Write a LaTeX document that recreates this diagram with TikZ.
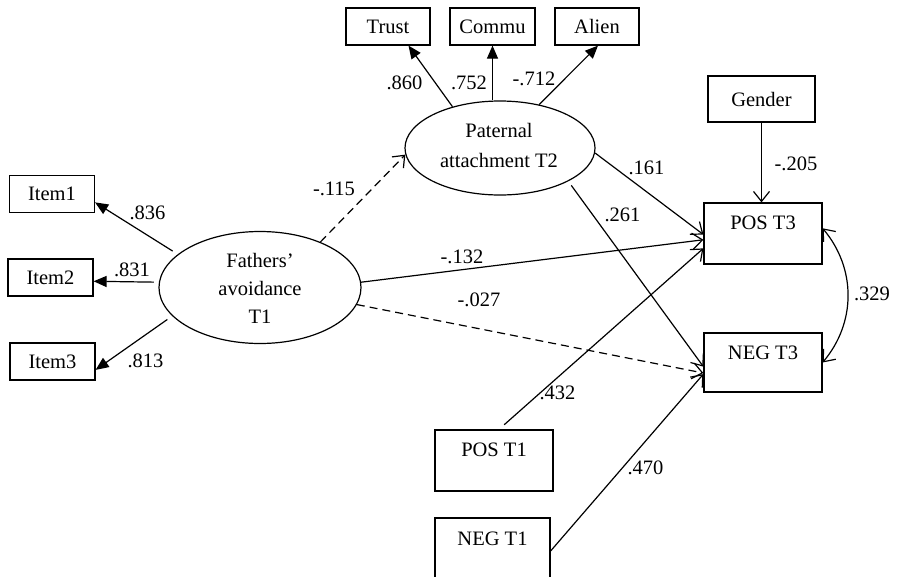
\documentclass[tikz,border=0pt]{standalone}
\usepackage{fontspec}
\setmainfont{Liberation Serif}
\usetikzlibrary{arrows.meta,shapes.geometric}
\begin{document}
\begin{tikzpicture}[x=1pt,y=-1pt,
  font=\fontsize{20.5}{24}\selectfont,
  box/.style={draw,line width=1.2pt,inner sep=0pt},
  lat/.style={draw,ellipse,line width=1.2pt,inner sep=0pt},
  txt/.style={inner sep=0pt},
  lab/.style={inner sep=0pt},
  ld/.style={line width=1.2pt,-{Triangle[length=13pt,width=11pt]}},
  pth/.style={line width=1.2pt,-{Straight Barb[length=10pt,width=16pt,line width=1.2pt]}},
  dbl/.style={line width=1.2pt,{Straight Barb[length=10pt,width=16pt,line width=1.2pt]}-{Straight Barb[length=10pt,width=16pt,line width=1.2pt]}},
  dsh/.style={dash pattern=on 8pt off 5pt},
  ]
\useasboundingbox (0,0) rectangle (897,576);
\clip (0,0) rectangle (897,576);

% observed indicators
\node[box,minimum width=85,minimum height=37] (item1) at (52,194) {Item1};
\node[box,minimum width=85,minimum height=37] (item2) at (50.5,277.5) {Item2};
\node[box,minimum width=85,minimum height=37] (item3) at (52.5,361.5) {Item3};
\node[box,minimum width=84,minimum height=37] (trust) at (388,26.5) {Trust};
\node[box,minimum width=85,minimum height=37] (commu) at (492.5,26.5) {Commu};
\node[box,minimum width=84,minimum height=37] (alien) at (597,26.5) {Alien};
\node[box,minimum width=107,minimum height=46] (gender) at (761.5,99) {Gender};

% outcome / control boxes
\node[box,minimum width=118,minimum height=61] (pos3) at (763,233.5) {};
\node[txt] (pos3t) at (763,223) {POS T3};
\node[box,minimum width=118,minimum height=59] (neg3) at (763,362.5) {};
\node[txt] (neg3t) at (763,353) {NEG T3};
\node[box,minimum width=118,minimum height=61] (pos1) at (494,460.5) {};
\node[txt] (pos1t) at (494,450) {POS T1};
\node[box,minimum width=115,minimum height=66] (neg1) at (492.5,551) {};
\node[txt] (neg1t) at (492.5,538.5) {NEG T1};

% latent variables
\node[lat,minimum width=202,minimum height=112] (fa) at (260,287.5) {};
\node[txt,align=center,font=\fontsize{20.5}{28}\selectfont] (fat) at (260,288) {Fathers’\\avoidance\\T1};
\node[lat,minimum width=190,minimum height=94] (pa) at (500,148) {};
\node[txt,align=center,font=\fontsize{20.5}{30}\selectfont] (pat) at (499,145) {Paternal\\attachment T2};

% measurement paths
\draw[ld,shorten <=6pt] (fa.158) -- (item1.-11);
\draw[ld,shorten <=5pt] (fa.177) -- (item2.-5);
\draw[ld,shorten <=6pt] (fa.198) -- (item3.-11);
\draw[ld] (pa.139) -- (trust.-43);
\draw[ld] (commu |- pa.north) -- (commu.south);
\draw[ld] (pa.48) -- (alien.-87);

% structural paths
\draw[pth,dsh] (fa.37) -- (pa.184);
\draw[pth] (fa.3) -- (pos3.186);
\draw[pth,dsh] (fa.-10) -- (neg3.190);
\draw[pth] (pa.-3) -- (pos3.181.5);
\draw[pth,shorten <=5pt] (pa.-26) -- (neg3.184);
\draw[pth] (gender.south) -- (gender.south |- pos3.north);
\draw[pth,shorten <=7pt] (pos1.81) -- (pos3.194);
\draw[pth] (neg1.east) -- (neg3.191);
\draw[dbl] (pos3.5) to[bend left=40] (neg3.east);

% coefficients
\node[lab] (l836) at (147.5,212.5) {.836};
\node[lab] (l831) at (132,269.5) {.831};
\node[lab] (l813) at (145.5,360.5) {.813};
\node[lab] (l115) at (334,189) {-.115};
\node[lab] (l132) at (462,257) {-.132};
\node[lab] (l027) at (479,300) {-.027};
\node[lab] (l860) at (404.5,83) {.860};
\node[lab] (l752) at (469,83) {.752};
\node[lab] (l712) at (534,79) {-.712};
\node[lab] (l161) at (646.5,167.5) {.161};
\node[lab] (l261) at (622.5,215) {.261};
\node[lab] (l205) at (796,163.5) {-.205};
\node[lab] (l329) at (872,294) {.329};
\node[lab] (l432) at (557.5,392.5) {.432};
\node[lab] (l470) at (645.5,467.5) {.470};
\end{tikzpicture}
\end{document}
